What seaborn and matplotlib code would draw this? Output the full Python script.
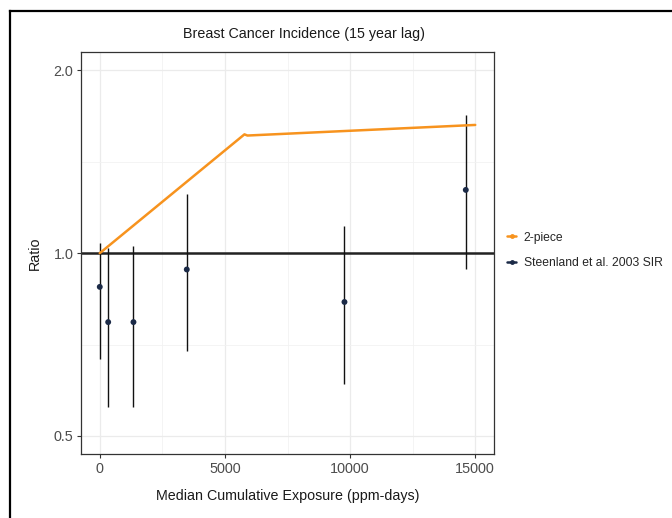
import numpy as np
import pandas as pd
import matplotlib
matplotlib.use("Agg")
import matplotlib.pyplot as plt
import seaborn as sns
from matplotlib.lines import Line2D
from matplotlib.ticker import FixedLocator, NullFormatter

# ---- data ----
piece_x = [0, 5780, 5900, 15000]
piece_y = [1.0, 1.569, 1.562, 1.626]

sir_x = [0, 336, 1346, 3476, 9776, 14623]
sir_y = [0.88, 0.77, 0.77, 0.94, 0.831, 1.271]
sir_lo = [0.670, 0.559, 0.559, 0.690, 0.610, 0.941]
sir_hi = [1.041, 1.019, 1.029, 1.25, 1.11, 1.689]

x_ticks = [0, 5000, 10000, 15000]
x_minor = [2500, 7500, 12500]
y_ticks = [0.5, 1.0, 2.0]
y_tick_labels = ["0.5", "1.0", "2.0"]
y_minor = [0.5 ** 0.5, 2 ** 0.5]

title = "Breast Cancer Incidence (15 year lag)"
xlabel = "Median Cumulative Exposure (ppm-days)"
ylabel = "Ratio"
series_names = ["2-piece", "Steenland et al. 2003 SIR"]

ORANGE = "#F7931E"
NAVY = "#1B2A47"

sns.set_theme(style="white")
plt.rcParams["font.family"] = ["Liberation Sans", "DejaVu Sans"]

W, H = 672, 518
fig = plt.figure(figsize=(W / 100, H / 100), dpi=100)
L, R, T, B = 81, 494, 52, 454
ax = fig.add_axes([L / W, 1 - B / H, (R - L) / W, (B - T) / H])

df_piece = pd.DataFrame({"x": piece_x, "y": piece_y})
df_sir = pd.DataFrame({"x": sir_x, "y": sir_y, "lo": sir_lo, "hi": sir_hi})

ax.set_yscale("log", base=2)
ax.set_xlim(-750, 15750)
ax.set_ylim(0.467, 2.144)

# grid
for v in x_ticks:
    ax.axvline(v, color="#EBEBEB", lw=0.9, zorder=0)
for v in x_minor:
    ax.axvline(v, color="#F2F2F2", lw=0.6, zorder=0)
for v in y_ticks:
    ax.axhline(v, color="#EBEBEB", lw=0.9, zorder=0)
for v in y_minor:
    ax.axhline(v, color="#F2F2F2", lw=0.6, zorder=0)

# reference line
ax.axhline(1.0, color="#222222", lw=1.8, zorder=2)

# error bars
ax.vlines(df_sir["x"], df_sir["lo"], df_sir["hi"], color="#111111", lw=1.0, zorder=3)

sns.lineplot(data=df_piece, x="x", y="y", ax=ax, color=ORANGE, lw=1.8,
             legend=False, zorder=4, sort=False)
sns.scatterplot(data=df_sir, x="x", y="y", ax=ax, color=NAVY, s=18,
                edgecolor="none", legend=False, zorder=5)

ax.set_xticks(x_ticks)
ax.set_xticklabels([str(v) for v in x_ticks])
ax.yaxis.set_major_locator(FixedLocator(y_ticks))
ax.set_yticklabels(y_tick_labels)
ax.yaxis.set_minor_locator(FixedLocator([]))
ax.yaxis.set_minor_formatter(NullFormatter())
ax.tick_params(axis="both", which="major", length=3, width=0.8, color="#333333",
               direction="out", labelsize=10.4, labelcolor="#4D4D4D", pad=2.5,
               bottom=True, left=True)
ax.tick_params(axis="both", which="minor", length=0)
ax.set_xlabel("")
ax.set_ylabel("")
for s in ax.spines.values():
    s.set_color("#333333")
    s.set_linewidth(0.9)
    s.set_visible(True)

fig.text(304 / W, 1 - 34 / H, title, ha="center", va="center", fontsize=10.3, color="#1A1A1A")
fig.text(287.5 / W, 1 - 496 / H, xlabel, ha="center", va="center", fontsize=10.3, color="#1A1A1A")
fig.text(35 / W, 1 - 253 / H, ylabel, ha="center", va="center", rotation=90, fontsize=10.3, color="#1A1A1A")

handles = [
    Line2D([], [], color=ORANGE, lw=1.8, marker="o", markersize=3.5, markeredgewidth=0),
    Line2D([], [], color=NAVY, lw=1.8, marker="o", markersize=3.5, markeredgewidth=0),
]
fig.legend(handles, series_names, loc="center left",
           bbox_to_anchor=(507 / W, 1 - 250.5 / H), frameon=False,
           fontsize=8.7, handlelength=0.75, handletextpad=0.65,
           labelspacing=1.15, borderaxespad=0, borderpad=0)

# outer frame (cropped box)
fig.add_artist(Line2D([10 / W, 10 / W], [0, 1 - 11 / H], color="black", lw=1.6,
                      transform=fig.transFigure, solid_capstyle="projecting"))
fig.add_artist(Line2D([10 / W, 1], [1 - 11 / H, 1 - 11 / H], color="black", lw=1.6,
                      transform=fig.transFigure, solid_capstyle="projecting"))

fig.savefig("out.png", dpi=100, facecolor="white")
